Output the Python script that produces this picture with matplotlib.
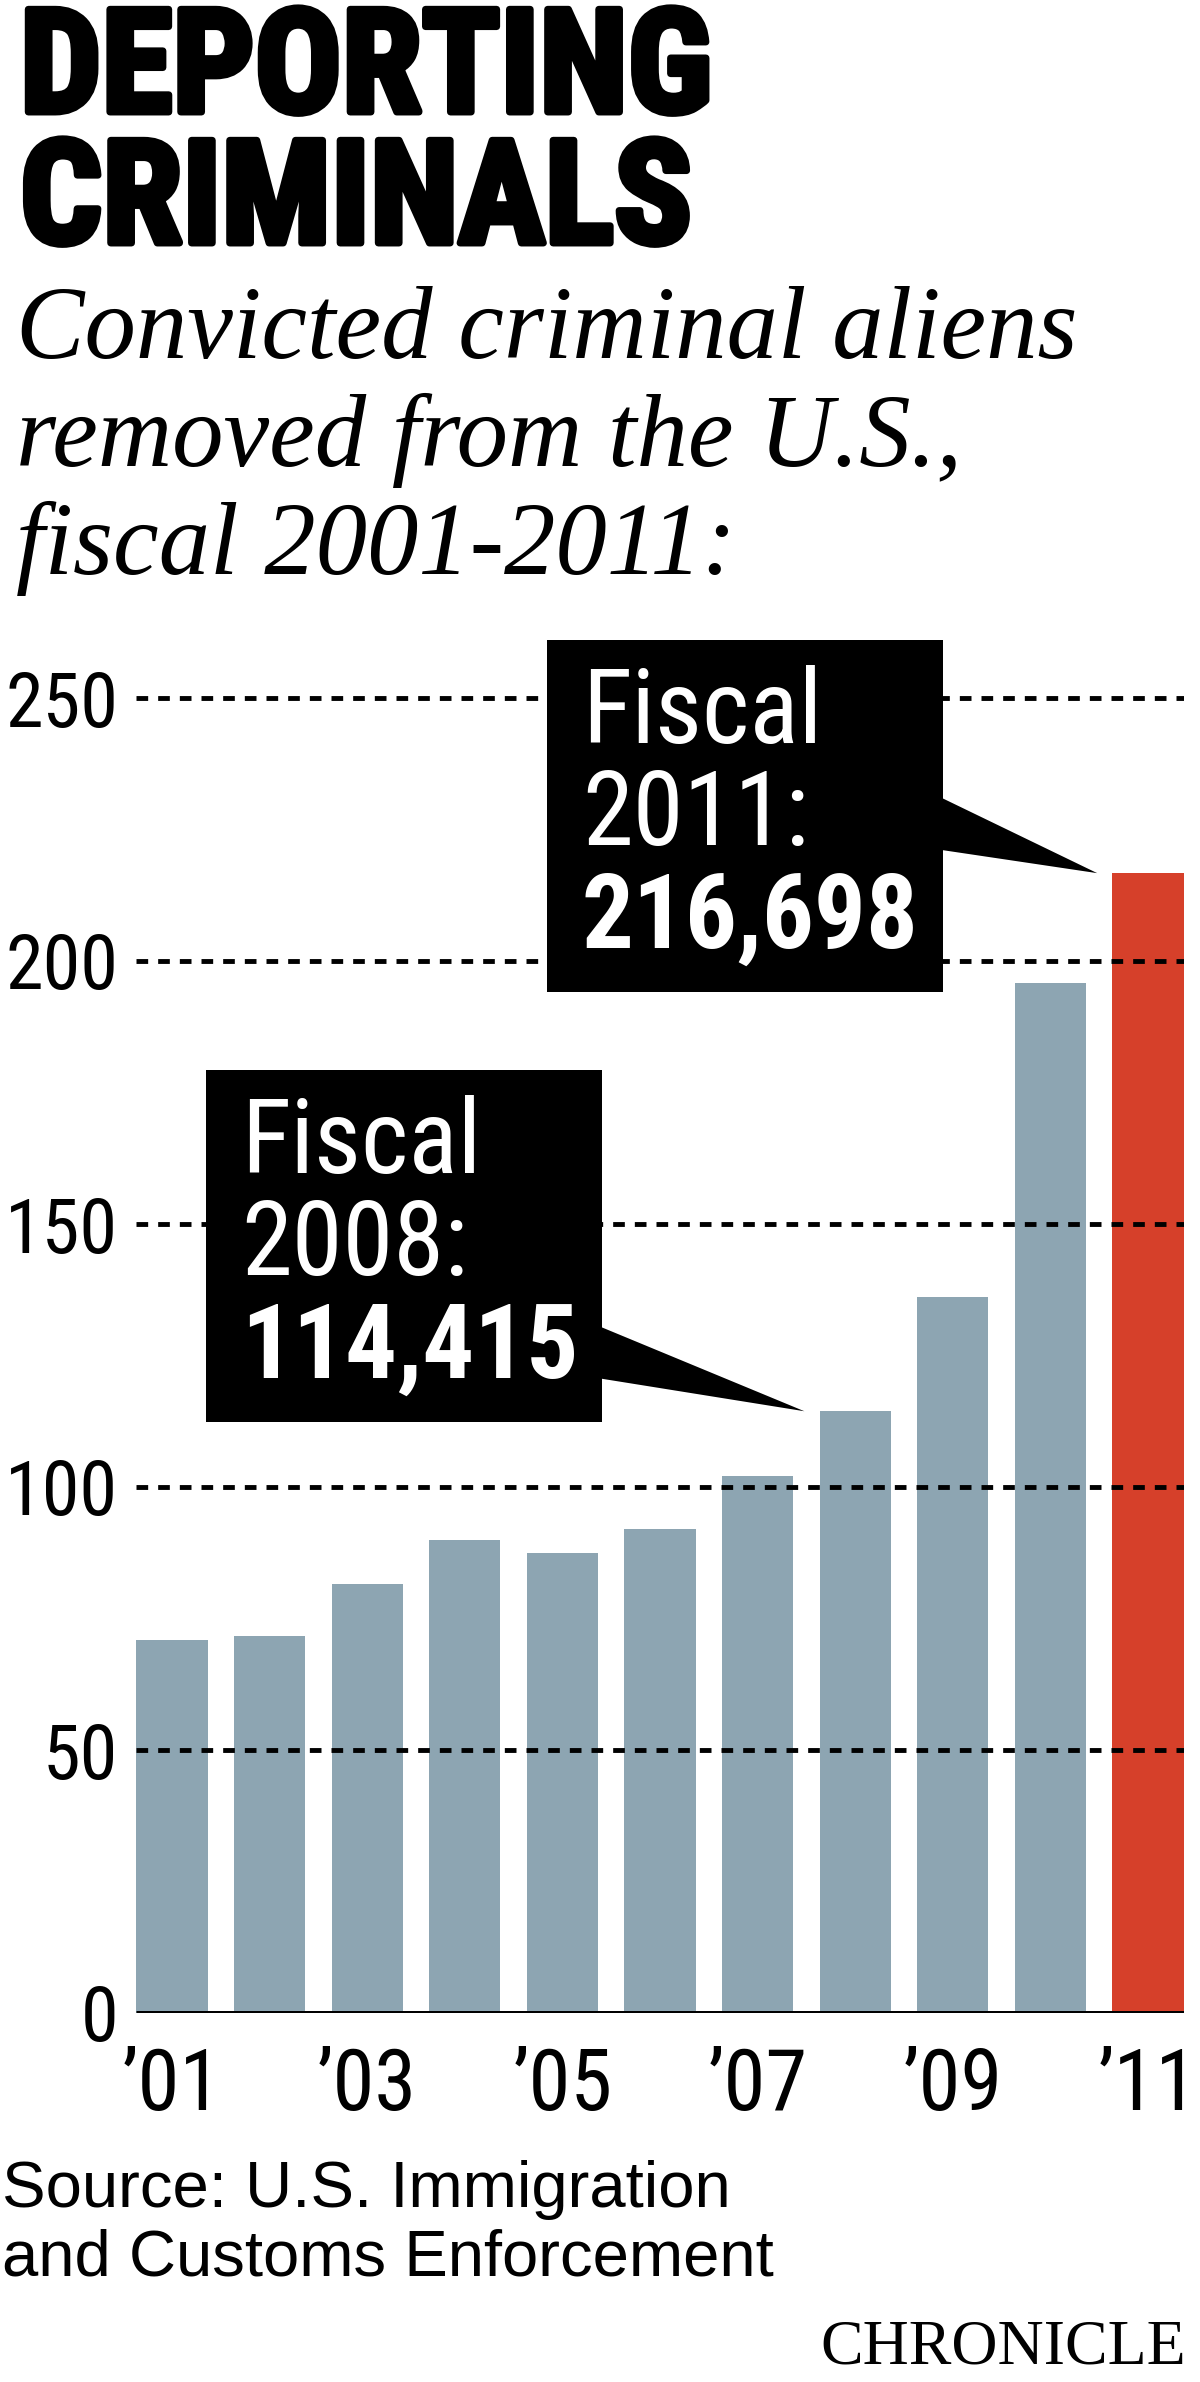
import matplotlib
matplotlib.use("Agg")
import matplotlib.pyplot as plt
from matplotlib import font_manager as fm
from matplotlib.patches import Rectangle, Polygon
import matplotlib.patheffects as pe

# ---------------- data ----------------
years = list(range(2001, 2012))
removals_thousands = [71.0, 71.7, 81.6, 89.9, 87.4, 92.1, 102.0, 114.4, 136.2, 195.8, 216.7]
xtick_years = [2001, 2003, 2005, 2007, 2009, 2011]
xtick_labels = ["\u201901", "\u201903", "\u201905", "\u201907", "\u201909", "\u201911"]
ytick_values = [0, 50, 100, 150, 200, 250]
highlight_year = 2011
callout_years = [2008, 2011]
callout_numbers = ["114,415", "216,698"]

title_lines = ["DEPORTING", "CRIMINALS"]
subtitle_lines = ["Convicted criminal aliens", "removed from the U.S.,", "fiscal 2001-2011:"]
source_lines = ["Source: U.S. Immigration", "and Customs Enforcement"]
credit = "CHRONICLE"

# ---------------- fonts ----------------
names = {f.name for f in fm.fontManager.ttflist}
def pick(*cands):
    for c in cands:
        if c in names:
            return c
    return "DejaVu Sans"
NARROW = pick("Liberation Sans Narrow", "Roboto Condensed", "Open Sans Condensed", "DejaVu Sans")
SANS = pick("Liberation Sans", "DejaVu Sans")
SERIF = pick("Liberation Serif", "DejaVu Serif")
narrow_kw = dict(family=[NARROW, "DejaVu Sans"])
if NARROW == "DejaVu Sans":
    narrow_kw["fontstretch"] = "condensed"

plt.rcParams["lines.scale_dashes"] = False

W, H = 1200, 2382
fig = plt.figure(figsize=(W / 100, H / 100), dpi=100)
fig.patch.set_facecolor("white")

def fx(px):
    return px / W

def fy(py):
    return 1 - py / H

BLUE = "#8da5b2"
RED = "#d6402a"

PX_PER_UNIT = 5.26
BASE_PX = 2013
X0, SLOT, BW = 172, 97.6, 0.73
YMAX = 265
left_px = X0 - SLOT * BW / 2
right_px = X0 + SLOT * (10 + BW / 2)
ax = fig.add_axes([fx(left_px), (H - BASE_PX) / H, (right_px - left_px) / W,
                   YMAX * PX_PER_UNIT / H])

xs = [y - years[0] for y in years]
colors = [RED if y == highlight_year else BLUE for y in years]
ax.bar(xs, removals_thousands, width=BW, color=colors, zorder=1, linewidth=0)
ax.set_xlim(-BW / 2, 10 + BW / 2)
ax.set_ylim(0, YMAX)

for v in ytick_values[1:]:
    ax.axhline(v, color="black", linewidth=3.5, linestyle=(0, (8.4, 7.2)), zorder=2)
ax.axhline(0, color="black", linewidth=3.6, zorder=4, solid_capstyle="butt")

for s in ax.spines.values():
    s.set_visible(False)
ax.set_yticks(ytick_values)
ax.set_yticklabels([str(v) for v in ytick_values])
ax.set_xticks([y - years[0] for y in xtick_years])
ax.set_xticklabels(xtick_labels)
ax.tick_params(axis="y", length=0, pad=13, labelsize=55)
ax.tick_params(axis="x", length=0, pad=24, labelsize=61)
for lab in ax.get_yticklabels() + ax.get_xticklabels():
    lab.set_family(narrow_kw["family"])
    if "fontstretch" in narrow_kw:
        lab.set_fontstretch("condensed")

# ---------------- callouts ----------------
BOX_W = 396 / SLOT
BOX_H = 352 / PX_PER_UNIT
box_layout = {2008: dict(left=0.35, top=179.3, base=(48.9, 58.7)),
              2011: dict(left=3.84, top=261.0, base=(30.0, 39.9))}
for yr, num in zip(callout_years, callout_numbers):
    lay = box_layout[yr]
    i = yr - years[0]
    val = removals_thousands[i]
    left, top = lay["left"], lay["top"]
    ax.add_patch(Rectangle((left, top - BOX_H), BOX_W, BOX_H, facecolor="black",
                           edgecolor="none", zorder=5, clip_on=False))
    ax.add_patch(Polygon([(left + BOX_W - 0.01, top - lay["base"][0]),
                          (left + BOX_W - 0.01, top - lay["base"][1]),
                          (i - 0.52, val)], closed=True, facecolor="black",
                         edgecolor="none", zorder=5, clip_on=False))
    tx = left + 35 / SLOT
    ax.text(tx, top - 103 / PX_PER_UNIT, "Fiscal", color="white", fontsize=74,
            va="baseline", ha="left", zorder=6, **narrow_kw)
    ax.text(tx, top - 205 / PX_PER_UNIT, f"{yr}:", color="white", fontsize=74,
            va="baseline", ha="left", zorder=6, **narrow_kw)
    ax.text(tx, top - 308 / PX_PER_UNIT, num, color="white", fontsize=74,
            fontweight="bold", va="baseline", ha="left", zorder=6, **narrow_kw)

# ---------------- titles ----------------
stroke = [pe.withStroke(linewidth=5, foreground="black")]
for txt, base in zip(title_lines, [112, 243]):
    t = fig.text(fx(20), fy(base), txt, fontsize=104, fontweight="bold",
                 va="baseline", ha="left", color="black", **narrow_kw)
    t.set_path_effects(stroke)

for txt, base in zip(subtitle_lines, [358, 466, 574]):
    fig.text(fx(16), fy(base), txt, fontsize=74, style="italic",
             family=[SERIF, "DejaVu Serif"], va="baseline", ha="left", color="black")

for txt, base in zip(source_lines, [2207, 2275]):
    fig.text(fx(2), fy(base), txt, fontsize=47, family=[SANS, "DejaVu Sans"],
             va="baseline", ha="left", color="black")

fig.text(fx(1186), fy(2363), credit, fontsize=46, family=[SERIF, "DejaVu Serif"],
         va="baseline", ha="right", color="black")

fig.savefig("out.png", dpi=100, facecolor="white")
